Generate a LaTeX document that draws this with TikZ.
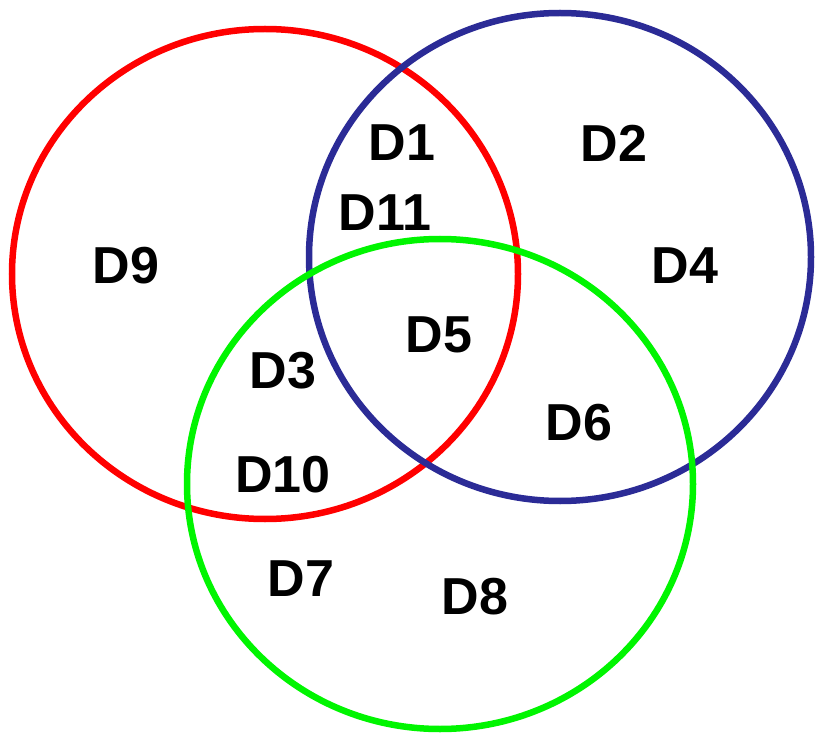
\documentclass[tikz,border=0pt]{standalone}
\usepackage{fontspec}
\setmainfont{Liberation Sans}
\definecolor{vred}{RGB}{255,0,0}
\definecolor{vblue}{RGB}{43,43,150}
\definecolor{vgreen}{RGB}{0,245,0}
\begin{document}
\begin{tikzpicture}[x=1pt,y=-1pt,
  ring/.style={line width=6.5pt},
  lab/.style={inner sep=0pt,font=\fontsize{52}{52}\selectfont\bfseries}]
\useasboundingbox (0,0) rectangle (815,733);
\fill[white] (0,0) rectangle (815,733);
\draw[ring,vred] (265,274) ellipse [x radius=253, y radius=245];
\draw[ring,vblue] (560,257) ellipse [x radius=251, y radius=244];
\draw[ring,vgreen] (440,484) ellipse [x radius=253, y radius=245];
\node[lab] (d1) at (402,143) {D1};
\node[lab] (d2) at (614,143) {D2};
\node[lab] (d11) at (385,213) {D11};
\node[lab] (d9) at (126,266) {D9};
\node[lab] (d4) at (685,266) {D4};
\node[lab] (d5) at (439,335) {D5};
\node[lab] (d3) at (283,371) {D3};
\node[lab] (d6) at (579,423) {D6};
\node[lab] (d10) at (283,475) {D10};
\node[lab] (d7) at (301,579) {D7};
\node[lab] (d8) at (475,597) {D8};
\end{tikzpicture}
\end{document}
